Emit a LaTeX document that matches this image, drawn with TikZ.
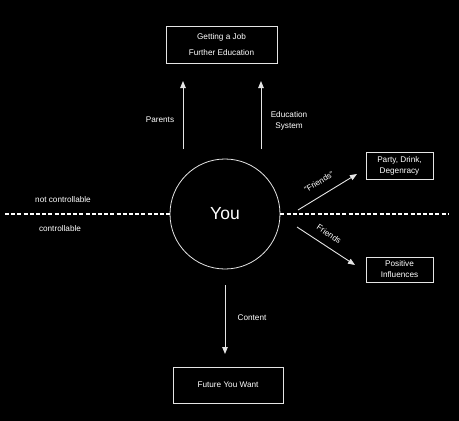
\documentclass[tikz,border=0pt]{standalone}
\usepackage{fontspec}
\setmainfont{Liberation Sans}
\usetikzlibrary{arrows.meta}
\begin{document}
\begin{tikzpicture}[x=1pt,y=-1pt,
  txt/.style={text=white, font=\fontsize{8.2}{11}\selectfont, align=center, inner sep=0pt},
  box/.style={txt, draw=white!90!black, line width=0.8pt, minimum width=#1},
  arr/.style={draw=white!90!black, line width=0.9pt, -{Triangle[width=5.5pt,length=7pt]}},
  dline/.style={draw=white, line width=1.8pt, dash pattern=on 4pt off 2.2pt}]
\fill[black] (0,0) rectangle (459,421);
\useasboundingbox (0,0) rectangle (459,421);

% centre
\node[circle, draw=white!90!black, line width=0.8pt, minimum size=110pt, inner sep=0pt,
      text=white, font=\fontsize{17.5}{20}\selectfont] (you) at (225,214) {You};

% boxes
\node[box=111pt, minimum height=37pt, font=\fontsize{8.2}{16}\selectfont] (job) at (221.5,44.5) {Getting a Job\\Further Education};
\node[box=67pt, minimum height=27pt] (party) at (399.5,165.5) {Party, Drink,\\Degenracy};
\node[box=67pt, minimum height=25pt] (pos) at (399.5,269.5) {Positive\\Influences};
\node[box=110pt, minimum height=36pt] (future) at (228,385) {Future You Want};

% dashed divider
\coordinate (dl) at (5,214);
\coordinate (dr) at (449,214);
\draw[dline] (dl) -- (you.west);
\draw[dline] (you.east) -- (dr);
\node[txt] (nc) at (63,200) {not controllable};
\node[txt] (c) at (60,229) {controllable};

% up arrows
\coordinate (p0) at (183,149);
\coordinate (p1) at (183,81);
\coordinate (e0) at (261,149);
\coordinate (e1) at (261,81);
\draw[arr] (p0) -- (p1);
\draw[arr] (e0) -- (e1);
\node[txt] (plab) at (160,120) {Parents};
\node[txt] (elab) at (289,120.5) {Education\\System};

% friends arrows
\coordinate (f0) at (298,210);
\coordinate (f1) at (357,174);
\draw[arr] (f0) -- (f1);
\node[txt, rotate=31] (flab1) at (319,182) {``Friends''};
\coordinate (g0) at (297,227);
\coordinate (g1) at (355,265);
\draw[arr] (g0) -- (g1);
\node[txt, rotate=-34] (flab2) at (329,234) {Friends};

% down arrow
\coordinate (d0) at (225,285);
\coordinate (d1) at (225,354);
\draw[arr] (d0) -- (d1);
\node[txt] (clab) at (252,318) {Content};
\end{tikzpicture}
\end{document}
